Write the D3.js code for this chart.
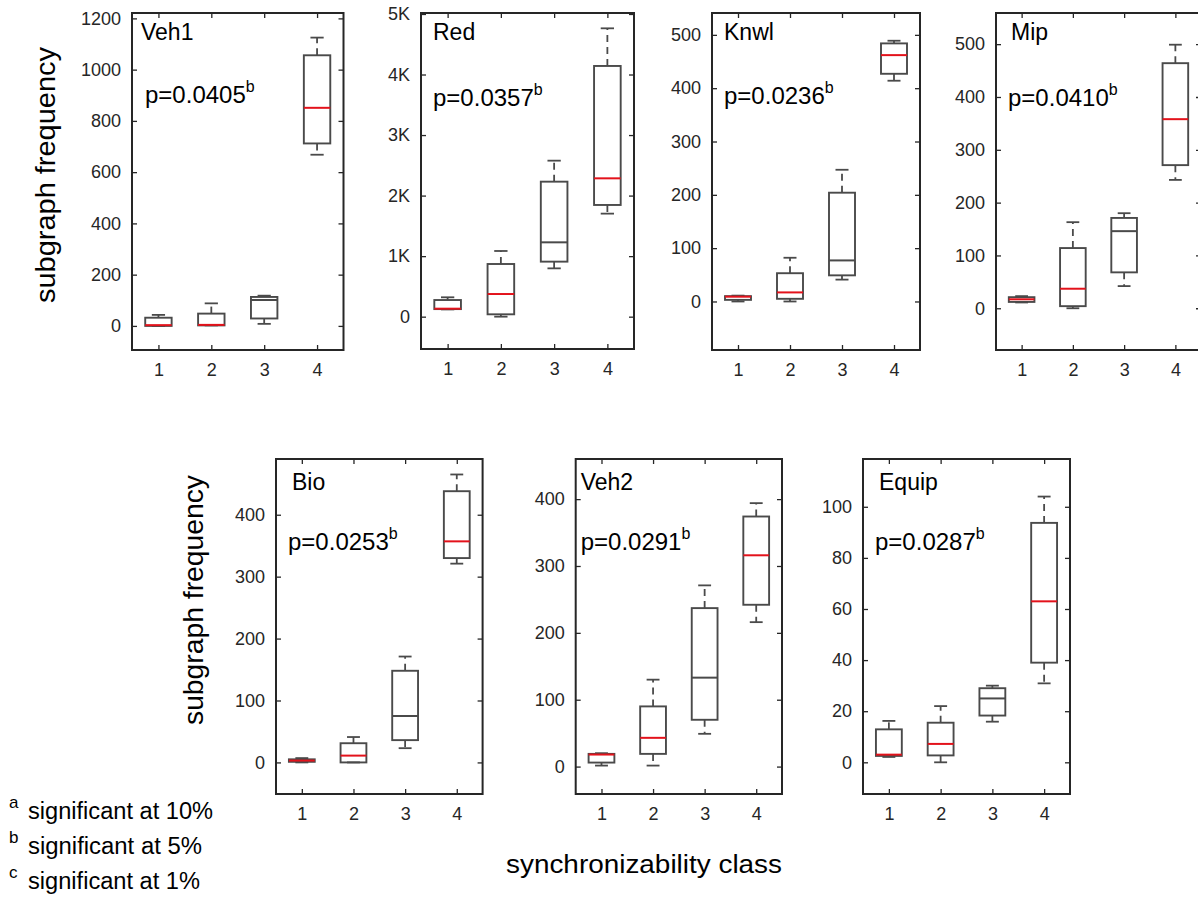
<!DOCTYPE html>
<html>
<head>
<meta charset="utf-8">
<script src="https://cdn.jsdelivr.net/npm/d3@7"></script>
<style>
  html, body { margin: 0; padding: 0; background: #fff; }
  svg { display: block; }
  text { font-family: "Liberation Sans", Arial, Helvetica, sans-serif; }
</style>
</head>
<body>
<svg id="chart" width="1198" height="897"></svg>
<script>
// ---------------- data ----------------
const classes = [1, 2, 3, 4];
const panelNames = ["Veh1", "Red", "Knwl", "Mip", "Bio", "Veh2", "Equip"];
const pValues = ["0.0405", "0.0357", "0.0236", "0.0410", "0.0253", "0.0291", "0.0287"];
const sigLetters = ["b", "b", "b", "b", "b", "b", "b"];

// each row: [min, q1, median, q3, max] per synchronizability class
const veh1Stats  = [[0, 0, 3, 32, 43], [2, 2, 4, 48, 88], [8, 29, 101, 113, 118], [668, 712, 851, 1056, 1125]];
const redStats   = [[120, 125, 132, 275, 320], [0, 39, 374, 870, 1085], [798, 909, 1228, 2230, 2577], [1702, 1845, 2285, 4141, 4763]];
const knwlStats  = [[0, 3, 9, 10, 11], [0, 5, 17, 53, 82], [41, 49, 77, 204, 247], [414, 427, 462, 484, 489]];
const mipStats   = [[11, 12, 17, 21, 23], [0, 4, 37, 114, 163], [42, 68, 146, 171, 180], [243, 271, 358, 464, 499]];
const bioStats   = [[0, 1, 3, 5, 7], [0, 0, 11, 31, 41], [23, 36, 75, 148, 171], [321, 330, 357, 438, 465]];
const veh2Stats  = [[1.5, 6, 18, 19, 20], [1.5, 19, 43, 90, 130], [49, 70, 133, 237, 271], [216, 242, 316, 374, 394]];
const equipStats = [[2.1, 2.5, 3.0, 12.9, 16.2], [0, 2.7, 7.2, 15.5, 22], [15.9, 18.3, 25, 29, 30], [30.9, 39, 63, 93.7, 104]];
const allStats = [veh1Stats, redStats, knwlStats, mipStats, bioStats, veh2Stats, equipStats];

// y axis limits and tick values
const yDomains = [[-94, 1221], [-534, 5016], [-91, 541], [-79, 559], [-51, 490], [-41, 460], [-12.4, 118.7]];
const yTickValues = [
  [0, 200, 400, 600, 800, 1000, 1200],
  [0, 1000, 2000, 3000, 4000, 5000],
  [0, 100, 200, 300, 400, 500],
  [0, 100, 200, 300, 400, 500],
  [0, 100, 200, 300, 400],
  [0, 100, 200, 300, 400],
  [0, 20, 40, 60, 80, 100]
];
const yTickLabels = [
  ["0", "200", "400", "600", "800", "1000", "1200"],
  ["0", "1K", "2K", "3K", "4K", "5K"],
  ["0", "100", "200", "300", "400", "500"],
  ["0", "100", "200", "300", "400", "500"],
  ["0", "100", "200", "300", "400"],
  ["0", "100", "200", "300", "400"],
  ["0", "20", "40", "60", "80", "100"]
];
const yAxisLabel = "subgraph frequency";
const xAxisLabel = "synchronizability class";
const footLetters = ["a", "b", "c"];
const footTexts = ["significant at 10%", "significant at 5%", "significant at 1%"];

// ---------------- layout / style ----------------
const layout = [
  { l: 132,   r: 343.5, t: 13,  b: 350, tdx: 9,  tdy: 27, pdx: 13, pdy: 90 },
  { l: 421,   r: 634,   t: 13,  b: 349, tdx: 12, tdy: 27, pdx: 12, pdy: 93 },
  { l: 712,   r: 920,   t: 13,  b: 350, tdx: 12, tdy: 27, pdx: 12, pdy: 91 },
  { l: 996,   r: 1201,  t: 13,  b: 350, tdx: 15, tdy: 27, pdx: 12, pdy: 93 },
  { l: 276,   r: 482.6, t: 459, b: 794, tdx: 16, tdy: 31, pdx: 12, pdy: 91 },
  { l: 575.7, r: 782,   t: 459, b: 794, tdx: 5,  tdy: 31, pdx: 5,  pdy: 91 },
  { l: 863,   r: 1070,  t: 459, b: 794, tdx: 16, tdy: 31, pdx: 12, pdy: 91 }
];
const boxColor = "#4a4a4a";
const axisColor = "#262626";
const medianColors = ["#e3121b", "#e3121b", "#4a4a4a", "#e3121b"];

const svg = d3.select("#chart");

allStats.forEach((stats, i) => {
  const L = layout[i];
  const x = d3.scaleLinear().domain([0.5, 4.5]).range([L.l, L.r]);
  const y = d3.scaleLinear().domain(yDomains[i]).range([L.b, L.t]);
  const g = svg.append("g");
  const step = x(2) - x(1);

  const labels = yTickLabels[i];
  const yLeft = d3.axisLeft(y).tickValues(yTickValues[i])
    .tickFormat((d, k) => labels[k]).tickSizeInner(-5).tickSizeOuter(0).tickPadding(11);
  const gl = g.append("g").attr("transform", `translate(${L.l},0)`).call(yLeft);
  const yRight = d3.axisRight(y).tickValues(yTickValues[i]).tickFormat("").tickSizeInner(-5).tickSizeOuter(0);
  const gr = g.append("g").attr("transform", `translate(${L.r},0)`).call(yRight);

  const xBottom = d3.axisBottom(x).tickValues(classes).tickFormat(d3.format("d"))
    .tickSizeInner(-5).tickSizeOuter(0).tickPadding(13);
  const gb = g.append("g").attr("transform", `translate(0,${L.b})`).call(xBottom);
  const xTop = d3.axisTop(x).tickValues(classes).tickFormat("").tickSizeInner(-5).tickSizeOuter(0);
  const gt = g.append("g").attr("transform", `translate(0,${L.t})`).call(xTop);

  [gl, gr, gb, gt].forEach(a => {
    a.select(".domain").remove();
    a.selectAll(".tick line").attr("stroke", axisColor).attr("stroke-width", 1.3);
    a.selectAll(".tick text").attr("fill", axisColor).style("font-size", "18px");
  });

  g.append("rect")
    .attr("x", L.l).attr("y", L.t)
    .attr("width", L.r - L.l).attr("height", L.b - L.t)
    .attr("fill", "none").attr("stroke", axisColor).attr("stroke-width", 2);

  const bw = step * 0.5, cw = step * 0.25;
  stats.forEach((s, k) => {
    const cx = x(classes[k]);
    const [mn, q1, md, q3, mx] = s;
    const bg = g.append("g");
    if (mx > q3) bg.append("line").attr("x1", cx).attr("x2", cx).attr("y1", y(q3)).attr("y2", y(mx))
      .attr("stroke", boxColor).attr("stroke-width", 1.8).attr("stroke-dasharray", "7,5");
    if (mn < q1) bg.append("line").attr("x1", cx).attr("x2", cx).attr("y1", y(q1)).attr("y2", y(mn))
      .attr("stroke", boxColor).attr("stroke-width", 1.8).attr("stroke-dasharray", "7,5");
    [mn, mx].forEach(v => bg.append("line")
      .attr("x1", cx - cw / 2).attr("x2", cx + cw / 2).attr("y1", y(v)).attr("y2", y(v))
      .attr("stroke", boxColor).attr("stroke-width", 1.8));
    bg.append("rect").attr("x", cx - bw / 2).attr("y", y(q3))
      .attr("width", bw).attr("height", Math.max(0.5, y(q1) - y(q3)))
      .attr("fill", "none").attr("stroke", boxColor).attr("stroke-width", 1.9);
    bg.append("line").attr("x1", cx - bw / 2).attr("x2", cx + bw / 2).attr("y1", y(md)).attr("y2", y(md))
      .attr("stroke", medianColors[k]).attr("stroke-width", 2);
  });

  g.append("text").attr("x", L.l + L.tdx).attr("y", L.t + L.tdy)
    .style("font-size", "23px").attr("fill", "#000").text(panelNames[i]);
  const pt = g.append("text").attr("x", L.l + L.pdx).attr("y", L.t + L.pdy)
    .style("font-size", "24px").attr("fill", "#000");
  pt.append("tspan").text("p=" + pValues[i]);
  pt.append("tspan").attr("dy", -11).style("font-size", "16px").text(sigLetters[i]);
});

// axis labels
svg.append("text").attr("transform", "translate(55,175) rotate(-90)")
  .attr("text-anchor", "middle").style("font-size", "27px").attr("fill", "#000")
  .attr("textLength", 256).attr("lengthAdjust", "spacingAndGlyphs")
  .text(yAxisLabel);
svg.append("text").attr("transform", "translate(203,600) rotate(-90)")
  .attr("text-anchor", "middle").style("font-size", "27px").attr("fill", "#000")
  .attr("textLength", 250).attr("lengthAdjust", "spacingAndGlyphs")
  .text(yAxisLabel);
svg.append("text").attr("x", 644).attr("y", 873)
  .attr("text-anchor", "middle").style("font-size", "26px").attr("fill", "#000")
  .attr("textLength", 276).attr("lengthAdjust", "spacingAndGlyphs")
  .text(xAxisLabel);

// footnotes
const footBase = [819, 854, 889];
const footWidths = [185, 174, 172];
footTexts.forEach((t, k) => {
  svg.append("text").attr("x", 9).attr("y", footBase[k] - 11)
    .style("font-size", "17px").attr("fill", "#000").text(footLetters[k]);
  svg.append("text").attr("x", 28).attr("y", footBase[k])
    .style("font-size", "23px").attr("fill", "#000")
    .attr("textLength", footWidths[k]).attr("lengthAdjust", "spacingAndGlyphs")
    .text(t);
});
</script>
</body>
</html>
